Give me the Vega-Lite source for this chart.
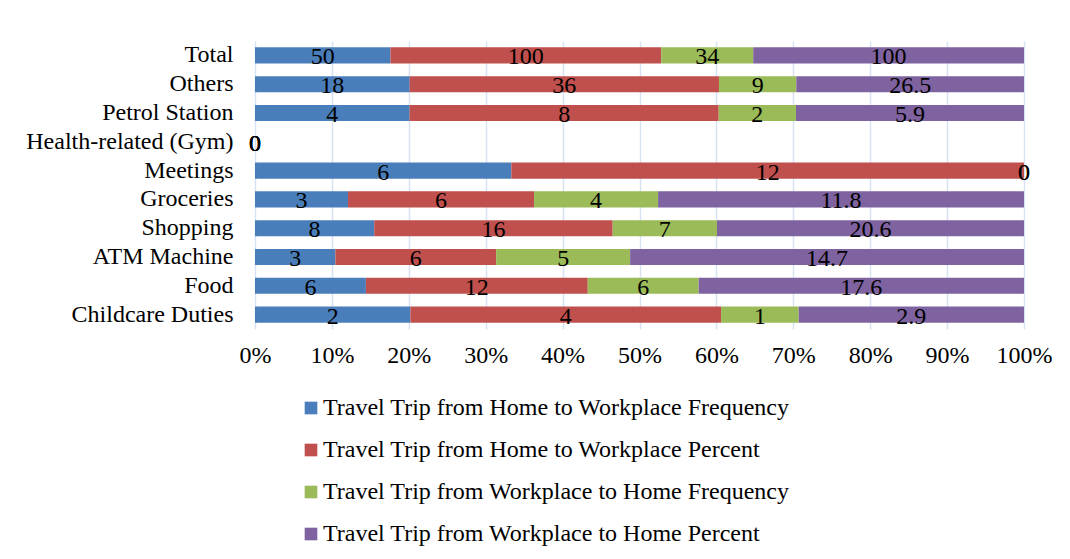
{
  "$schema": "https://vega.github.io/schema/vega-lite/v6.json",
  "autosize": {"type": "none"},
  "width": 769,
  "height": 288,
  "padding": {"left": 255, "top": 41, "right": 46, "bottom": 230},
  "background": "white",
  "config": {
    "font": "Liberation Serif",
    "view": {"stroke": null}
  },
  "data": {
    "values": [
      {"category": "Total", "series": "Travel Trip from Home to Workplace Frequency", "order": 1, "value": 50},
      {"category": "Total", "series": "Travel Trip from Home to Workplace Percent", "order": 2, "value": 100},
      {"category": "Total", "series": "Travel Trip from Workplace to Home Frequency", "order": 3, "value": 34},
      {"category": "Total", "series": "Travel Trip from Workplace to Home Percent", "order": 4, "value": 100},
      {"category": "Others", "series": "Travel Trip from Home to Workplace Frequency", "order": 1, "value": 18},
      {"category": "Others", "series": "Travel Trip from Home to Workplace Percent", "order": 2, "value": 36},
      {"category": "Others", "series": "Travel Trip from Workplace to Home Frequency", "order": 3, "value": 9},
      {"category": "Others", "series": "Travel Trip from Workplace to Home Percent", "order": 4, "value": 26.5},
      {"category": "Petrol Station", "series": "Travel Trip from Home to Workplace Frequency", "order": 1, "value": 4},
      {"category": "Petrol Station", "series": "Travel Trip from Home to Workplace Percent", "order": 2, "value": 8},
      {"category": "Petrol Station", "series": "Travel Trip from Workplace to Home Frequency", "order": 3, "value": 2},
      {"category": "Petrol Station", "series": "Travel Trip from Workplace to Home Percent", "order": 4, "value": 5.9},
      {"category": "Health-related (Gym)", "series": "Travel Trip from Home to Workplace Frequency", "order": 1, "value": 0},
      {"category": "Health-related (Gym)", "series": "Travel Trip from Home to Workplace Percent", "order": 2, "value": 0},
      {"category": "Health-related (Gym)", "series": "Travel Trip from Workplace to Home Frequency", "order": 3, "value": 0},
      {"category": "Health-related (Gym)", "series": "Travel Trip from Workplace to Home Percent", "order": 4, "value": 0},
      {"category": "Meetings", "series": "Travel Trip from Home to Workplace Frequency", "order": 1, "value": 6},
      {"category": "Meetings", "series": "Travel Trip from Home to Workplace Percent", "order": 2, "value": 12},
      {"category": "Meetings", "series": "Travel Trip from Workplace to Home Frequency", "order": 3, "value": 0},
      {"category": "Meetings", "series": "Travel Trip from Workplace to Home Percent", "order": 4, "value": 0},
      {"category": "Groceries", "series": "Travel Trip from Home to Workplace Frequency", "order": 1, "value": 3},
      {"category": "Groceries", "series": "Travel Trip from Home to Workplace Percent", "order": 2, "value": 6},
      {"category": "Groceries", "series": "Travel Trip from Workplace to Home Frequency", "order": 3, "value": 4},
      {"category": "Groceries", "series": "Travel Trip from Workplace to Home Percent", "order": 4, "value": 11.8},
      {"category": "Shopping", "series": "Travel Trip from Home to Workplace Frequency", "order": 1, "value": 8},
      {"category": "Shopping", "series": "Travel Trip from Home to Workplace Percent", "order": 2, "value": 16},
      {"category": "Shopping", "series": "Travel Trip from Workplace to Home Frequency", "order": 3, "value": 7},
      {"category": "Shopping", "series": "Travel Trip from Workplace to Home Percent", "order": 4, "value": 20.6},
      {"category": "ATM Machine", "series": "Travel Trip from Home to Workplace Frequency", "order": 1, "value": 3},
      {"category": "ATM Machine", "series": "Travel Trip from Home to Workplace Percent", "order": 2, "value": 6},
      {"category": "ATM Machine", "series": "Travel Trip from Workplace to Home Frequency", "order": 3, "value": 5},
      {"category": "ATM Machine", "series": "Travel Trip from Workplace to Home Percent", "order": 4, "value": 14.7},
      {"category": "Food", "series": "Travel Trip from Home to Workplace Frequency", "order": 1, "value": 6},
      {"category": "Food", "series": "Travel Trip from Home to Workplace Percent", "order": 2, "value": 12},
      {"category": "Food", "series": "Travel Trip from Workplace to Home Frequency", "order": 3, "value": 6},
      {"category": "Food", "series": "Travel Trip from Workplace to Home Percent", "order": 4, "value": 17.6},
      {"category": "Childcare Duties", "series": "Travel Trip from Home to Workplace Frequency", "order": 1, "value": 2},
      {"category": "Childcare Duties", "series": "Travel Trip from Home to Workplace Percent", "order": 2, "value": 4},
      {"category": "Childcare Duties", "series": "Travel Trip from Workplace to Home Frequency", "order": 3, "value": 1},
      {"category": "Childcare Duties", "series": "Travel Trip from Workplace to Home Percent", "order": 4, "value": 2.9}
    ]
  },
  "transform": [
    {"stack": "value", "groupby": ["category"], "sort": [{"field": "order", "order": "ascending"}], "offset": "normalize", "as": ["x0", "x1"]},
    {"calculate": "isFinite(datum.x1) ? (datum.x0 + datum.x1) / 2 : 0", "as": "mid"}
  ],
  "encoding": {
    "y": {
      "field": "category",
      "type": "nominal",
      "sort": ["Total", "Others", "Petrol Station", "Health-related (Gym)", "Meetings", "Groceries", "Shopping", "ATM Machine", "Food", "Childcare Duties"],
      "scale": {"paddingInner": 0.44, "paddingOuter": 0.22},
      "axis": {
        "title": null,
        "domain": false,
        "ticks": false,
        "labelFontSize": 24,
        "labelColor": "#000000",
        "labelPadding": 22,
        "labelFont": "Liberation Serif",
        "labelLimit": 400
      }
    }
  },
  "layer": [
    {
      "mark": {"type": "bar"},
      "encoding": {
        "x": {
          "field": "x0",
          "type": "quantitative",
          "scale": {"domain": [0, 1], "nice": false},
          "axis": {
            "title": null,
            "format": "%",
            "values": [0, 0.1, 0.2, 0.3, 0.4, 0.5, 0.6, 0.7, 0.8, 0.9, 1],
            "domain": false,
            "ticks": false,
            "grid": true,
            "gridColor": "#d6e2f2",
            "gridWidth": 1.5,
            "labelFontSize": 24,
            "labelColor": "#000000",
            "labelPadding": 14,
            "labelFlush": false,
            "labelFont": "Liberation Serif"
          }
        },
        "x2": {"field": "x1"},
        "color": {
          "field": "series",
          "type": "nominal",
          "scale": {
            "domain": ["Travel Trip from Home to Workplace Frequency", "Travel Trip from Home to Workplace Percent", "Travel Trip from Workplace to Home Frequency", "Travel Trip from Workplace to Home Percent"],
            "range": ["#4a7ebb", "#c0504d", "#9bbb59", "#7f63a1"]
          },
          "legend": {
            "title": null,
            "orient": "none",
            "legendX": 44,
            "legendY": 355,
            "direction": "vertical",
            "symbolType": "square",
            "symbolSize": 160,
            "symbolStrokeWidth": 0,
            "labelFontSize": 24,
            "labelFont": "Liberation Serif",
            "labelColor": "#000000",
            "labelOffset": 0,
            "rowPadding": 18,
            "labelLimit": 700
          }
        }
      }
    },
    {
      "mark": {"type": "text", "fontSize": 24, "font": "Liberation Serif", "color": "#000000", "baseline": "middle", "align": "center", "dy": 2},
      "encoding": {
        "x": {"field": "mid", "type": "quantitative"},
        "text": {"field": "value", "type": "quantitative"}
      }
    }
  ]
}
